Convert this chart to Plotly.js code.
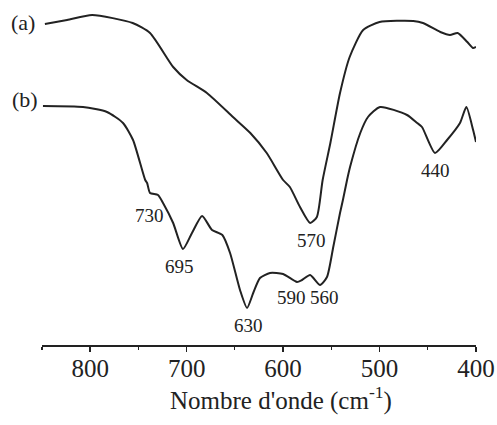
<!DOCTYPE html>
<html>
<head>
<meta charset="utf-8">
<script src="https://cdn.plot.ly/plotly-3.0.1.min.js"></script>
<style>html,body{margin:0;padding:0;background:#fff;}#chart{width:497px;height:425px;}</style>
</head>
<body>
<div id="chart"></div>
<script>
// Curve (a)
var waveA = [847, 824, 798, 756, 738, 714, 700, 679, 652, 634, 617, 600, 593, 582.5, 572, 565, 559, 551, 541, 531, 517, 500, 465, 455, 437, 427, 419, 409, 403, 400];
var transA = [321, 325, 330, 322, 312, 278, 265, 252, 228, 212, 192, 165, 158, 138, 122, 128, 165, 202, 252, 288, 315, 323, 324, 322, 313, 310, 312, 303, 297, 298];
// Curve (b)
var waveB = [849, 807.5, 782.6, 766, 755.6, 743, 741, 738, 729.7, 724.5, 714, 703.8, 694.5, 684, 673.7, 663, 655, 644.7, 637.4, 631, 624, 613.6, 600, 585.6, 580.4, 572, 561.7, 554.5, 548, 541, 538, 533.7, 530.6, 520, 512, 499.5, 471.5, 461, 456, 442.5, 430, 416.6, 410, 403, 400];
var transB = [239, 238, 233, 222, 205, 165, 162, 152, 150, 142, 122, 96, 112, 129, 115, 110, 92, 55, 37, 52, 67, 72, 71, 63, 65, 70, 60, 68, 98, 132, 145, 165, 178, 212, 228, 238, 230, 222, 218, 192, 205, 222, 238, 215, 203];
// Peak labels
var peakText = ["730", "695", "630", "570", "590", "560", "440"];
var peakX = [739, 707, 636, 571, 591, 557, 442.5];
var peakY = [130, 79, 20, 105, 48, 48, 175];
var tickVals = [800, 700, 600, 500, 400];
var xTitle = "Nombre d'onde (cm<sup>-1</sup>)";

var font = "'Liberation Serif', 'Times New Roman', serif";
var ink = "#222";

var traces = [
  {x: waveA, y: transA, mode: "lines", line: {color: ink, width: 2, shape: "spline", smoothing: 0.6}, hoverinfo: "skip"},
  {x: waveB, y: transB, mode: "lines", line: {color: ink, width: 2, shape: "spline", smoothing: 0.6}, hoverinfo: "skip"}
];

var W = 497, H = 425, mL = 42, mR = 21, mT = 0, mB = 80;
function px(x) { return (x - mL) / (W - mL - mR); }
function py(y) { return 1 - (y - mT) / (H - mT - mB); }

var annotations = peakText.map(function (t, i) {
  return {x: peakX[i], y: peakY[i], xref: "x", yref: "y", text: t, showarrow: false,
          xanchor: "center", yanchor: "middle",
          font: {family: font, size: 19, color: ink}};
});
annotations.push({x: px(23), y: py(22), xref: "paper", yref: "paper", text: "(a)", showarrow: false,
  xanchor: "center", yanchor: "middle", font: {family: font, size: 22, color: ink}});
annotations.push({x: px(25), y: py(99), xref: "paper", yref: "paper", text: "(b)", showarrow: false,
  xanchor: "center", yanchor: "middle", font: {family: font, size: 22, color: ink}});
annotations.push({x: px(281), y: py(398), xref: "paper", yref: "paper", text: xTitle, showarrow: false,
  xanchor: "center", yanchor: "middle", font: {family: font, size: 25, color: ink}});

var layout = {
  width: W, height: H,
  margin: {l: mL, r: mR, t: mT, b: mB},
  paper_bgcolor: "#fff", plot_bgcolor: "#fff",
  showlegend: false,
  xaxis: {
    range: [850, 400], tickvals: tickVals, ticktext: tickVals.map(String),
    showline: true, linecolor: ink, linewidth: 1.5,
    ticks: "outside", ticklen: 5, tickwidth: 1.5, tickcolor: ink,
    minor: {dtick: 50, tick0: 0, ticks: "outside", ticklen: 3, tickwidth: 1.2, tickcolor: ink},
    showgrid: false, zeroline: false,
    ticklabelstandoff: -5,
    tickfont: {family: font, size: 25, color: ink}
  },
  yaxis: {range: [0, 345], visible: false, showgrid: false, zeroline: false},
  annotations: annotations
};

Plotly.newPlot("chart", traces, layout, {displayModeBar: false, staticPlot: true});
</script>
</body>
</html>
